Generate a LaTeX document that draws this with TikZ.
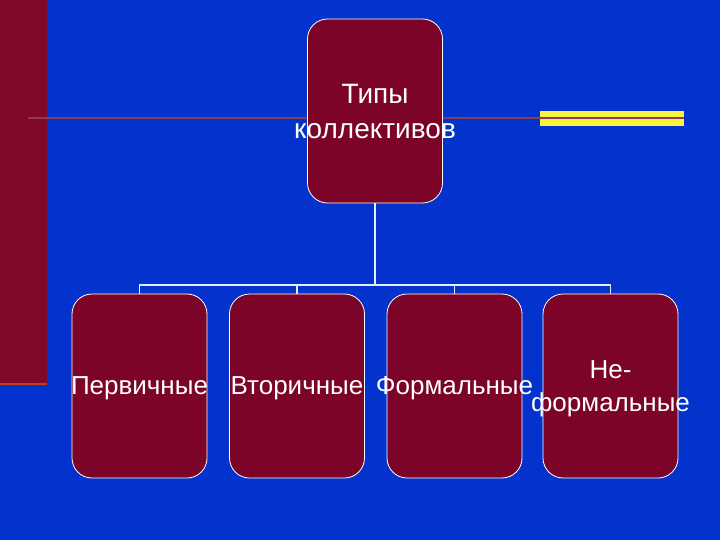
\documentclass[tikz,border=0pt]{standalone}
\usepackage{fontspec}
\setmainfont{Liberation Sans}
\definecolor{bgblue}{RGB}{4,50,204}
\definecolor{maroon}{RGB}{124,4,40}
\definecolor{stripe}{RGB}{128,8,40}
\definecolor{rule}{RGB}{140,60,80}
\definecolor{yel}{RGB}{250,245,60}
\definecolor{conn}{RGB}{225,240,255}
\tikzset{
  card/.style={draw=white, line width=0.8pt, fill=maroon, rounded corners=20pt,
    minimum width=135pt, minimum height=184pt, inner sep=0pt},
  lbl/.style={text=white, font=\fontsize{26}{33}\selectfont, align=center, inner sep=0pt},
  biglbl/.style={lbl, font=\fontsize{28}{35}\selectfont},
  link/.style={draw=conn, line width=1.5pt}
}
\begin{document}
\begin{tikzpicture}[x=1pt,y=-1pt]
\useasboundingbox (0,0) rectangle (720,540);
\fill[bgblue] (0,0) rectangle (720,540);
\fill[stripe] (0,0) rectangle (47,383);
\draw[draw={rgb,255:red,200;green,60;blue,30}, line width=2.5pt] (0,384) -- (47,384);
\fill[yel] (540,111) rectangle (684,126);
\draw[rule, line width=2.5pt] (28,118) -- (684,118);
% boxes
\node[card] (top) at (375,111) {};
\node[card] (b1) at (139.5,386) {};
\node[card] (b2) at (297,386) {};
\node[card] (b3) at (454.5,386) {};
\node[card] (b4) at (610.5,386) {};
\node[biglbl] (ttop) at (375,112) {Типы\\коллективов};
\node[lbl] (t1) at (139.5,388) {Первичные};
\node[lbl] (t2) at (297,388) {Вторичные};
\node[lbl] (t3) at (454.5,388) {Формальные};
\node[lbl] (t4) at (610.5,389) {Не-\\формальные};
% connectors
\coordinate (bus) at (375,285);
\draw[link] (top.south) -- (bus);
\draw[link] (b1.north) -- (b1.north |- bus) -- (b4.north |- bus) -- (b4.north);
\draw[link] (b2.north) -- (b2.north |- bus);
\draw[link] (b3.north) -- (b3.north |- bus);
\end{tikzpicture}
\end{document}
